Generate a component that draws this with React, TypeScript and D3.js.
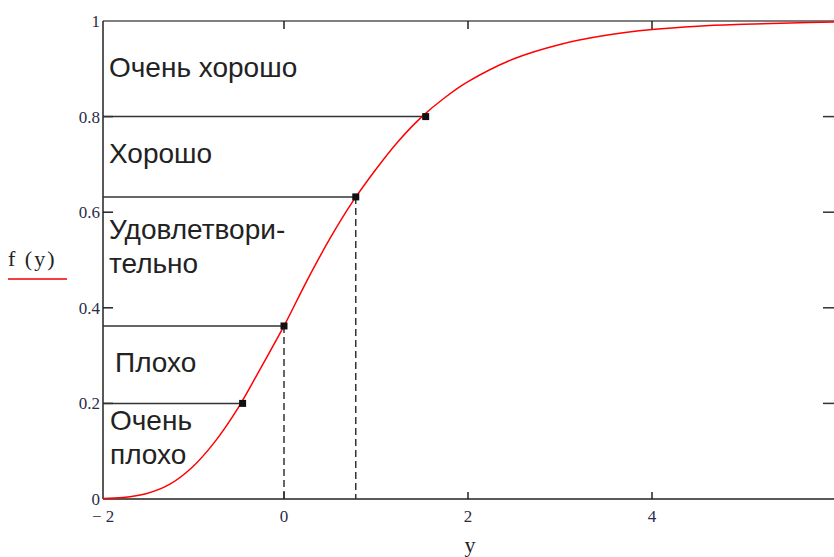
import React from "react";
import * as d3 from "d3";

// Curve values (y, f(y))
const curveX = [-2, -1.75, -1.5, -1.25, -1, -0.75, -0.5, -0.25, 0, 0.25, 0.5, 0.75, 1, 1.25, 1.5, 1.75, 2, 2.5, 3, 3.5, 4, 4.5, 5, 5.5, 6];
const curveY = [0.001, 0.003, 0.011, 0.03, 0.066, 0.12, 0.19, 0.275, 0.362, 0.457, 0.545, 0.623, 0.69, 0.75, 0.8, 0.84, 0.873, 0.921, 0.951, 0.97, 0.982, 0.989, 0.993, 0.996, 0.998];

// Threshold points
const markX = [-0.45, 0, 0.78, 1.54];
const markY = [0.2, 0.362, 0.632, 0.8];
const dashedIdx = [1, 2];

const xTicks = [-2, 0, 2, 4];
const xTickLabels = ["\u2212 2", "0", "2", "4"];
const yTicks = [0, 0.2, 0.4, 0.6, 0.8, 1];
const yTickLabels = ["0", "0.2", "0.4", "0.6", "0.8", "1"];

// Region labels
const regionLabels = [
  { lines: ["Очень хорошо"], x: 109, y: 77 },
  { lines: ["Хорошо"], x: 109, y: 163 },
  { lines: ["Удовлетвори-", "тельно"], x: 109, y: 239 },
  { lines: ["Плохо"], x: 115, y: 372 },
  { lines: ["Очень", "плохо"], x: 110, y: 430 },
];

export default function App() {
  const W = 834, H = 557;
  const left = 103, right = 836, top = 21, bottom = 499;
  const x = d3.scaleLinear().domain([-2 + 3 / 92, -2 + 3 / 92 + (right - left) / 92]).range([left, right]);
  const y = d3.scaleLinear().domain([0, 1]).range([bottom, top]);
  const pts: [number, number][] = curveX.map((v, i) => [v, curveY[i]]);
  const line = d3.line<[number, number]>().x(d => x(d[0])).y(d => y(d[1])).curve(d3.curveCatmullRom.alpha(0.5));
  const labelFont = "'Liberation Sans', Arial, sans-serif";
  const serif = "'Liberation Serif', 'Times New Roman', serif";
  return (
    <svg width={W} height={H} style={{ position: "absolute", left: 0, top: 0, background: "#fff" }}>
      <defs>
        <clipPath id="pa"><rect x={left} y={top - 2} width={right - left} height={bottom - top + 4} /></clipPath>
      </defs>
      {/* frame */}
      <line x1={left} x2={right} y1={top} y2={top} stroke="#555" strokeWidth={1.5} />
      <line x1={left} x2={right} y1={bottom} y2={bottom} stroke="#222" strokeWidth={1.5} />
      <line x1={left} x2={left} y1={top} y2={bottom} stroke="#222" strokeWidth={1.5} />
      <line x1={right} x2={right} y1={top} y2={bottom} stroke="#222" strokeWidth={1.5} />
      {/* y ticks */}
      {yTicks.slice(1, -1).map(t => (
        <g key={"yt" + t}>
          <line x1={left} x2={left + 10} y1={y(t)} y2={y(t)} stroke="#222" strokeWidth={1.5} />
          <line x1={right - 13} x2={right} y1={y(t)} y2={y(t)} stroke="#333" strokeWidth={1.5} />
        </g>
      ))}
      {yTicks.map((t, i) => (
        <text key={"yl" + t} x={100} y={y(t)} dy="0.35em" textAnchor="end" fontFamily={serif} fontSize={17} fill="#2b2b4a">{yTickLabels[i]}</text>
      ))}
      {/* x ticks */}
      {xTicks.slice(1).map(t => (
        <g key={"xt" + t}>
          <line x1={x(t)} x2={x(t)} y1={bottom} y2={bottom - 7} stroke="#222" strokeWidth={1.5} />
          <line x1={x(t)} x2={x(t)} y1={top} y2={top + 8} stroke="#222" strokeWidth={1.5} />
        </g>
      ))}
      {xTicks.map((t, i) => (
        <text key={"xl" + t} x={i === 0 ? 92 : x(t)} y={522} textAnchor={i === 0 ? "start" : "middle"} fontFamily={serif} fontSize={17} fill="#2b2b4a">{xTickLabels[i]}</text>
      ))}
      {/* axis titles */}
      <text x={8} y={266} fontFamily={serif} fontSize={22} letterSpacing={2} fill="#222">f (y)</text>
      <line x1={8} x2={67} y1={279} y2={279} stroke="#e00" strokeWidth={1.5} />
      <text x={470} y={552} textAnchor="middle" fontFamily={serif} fontSize={22} fill="#222">y</text>
      {/* threshold lines */}
      {markX.map((mx, i) => (
        <line key={"h" + i} x1={left} x2={x(mx)} y1={y(markY[i])} y2={y(markY[i])} stroke="#333" strokeWidth={1.5} />
      ))}
      {dashedIdx.map(i => (
        <line key={"v" + i} x1={x(markX[i])} x2={x(markX[i])} y1={y(markY[i])} y2={bottom} stroke="#333" strokeWidth={1.5} strokeDasharray="7,4" />
      ))}
      {/* curve */}
      <path d={line(pts) || ""} fill="none" stroke="#f00" strokeWidth={1.5} clipPath="url(#pa)" />
      {markX.map((mx, i) => (
        <rect key={"m" + i} x={x(mx) - 3.5} y={y(markY[i]) - 3.5} width={7} height={7} fill="#111" />
      ))}
      {/* region labels */}
      {regionLabels.map((r, i) => (
        <text key={"r" + i} x={r.x} y={r.y} fontFamily={labelFont} fontSize={28} fill="#222">
          {r.lines.map((l, j) => (
            <tspan key={j} x={r.x} dy={j === 0 ? 0 : 34}>{l}</tspan>
          ))}
        </text>
      ))}
    </svg>
  );
}
